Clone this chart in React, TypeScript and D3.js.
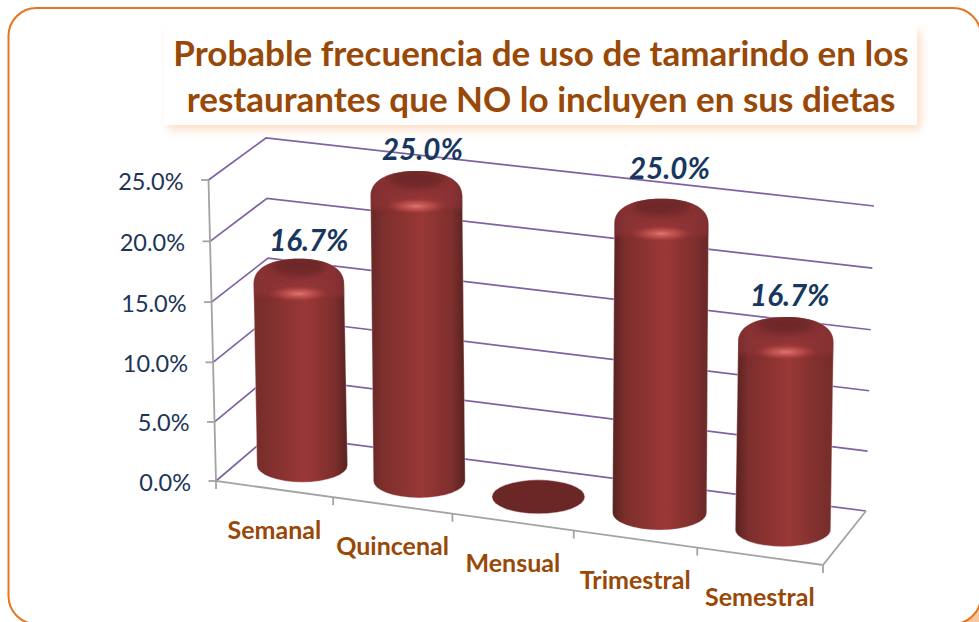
import React from "react";
import * as d3 from "d3";

const categories = ["Semanal", "Quincenal", "Mensual", "Trimestral", "Semestral"];
const values = [16.7, 25.0, 0, 25.0, 16.7];
const valueTicks = [0, 5, 10, 15, 20, 25];
const titleLines = [
  "Probable frecuencia de uso de tamarindo en los",
  "restaurantes que NO lo incluyen en sus dietas",
];

const W = 979;
const H = 622;

// 3D plot box: screen corners of the projected chart cube
type Pt = [number, number];
const frontLeft0: Pt = [216, 481];
const frontRight0: Pt = [823, 565];
const backLeft0: Pt = [271, 434];
const backRight0: Pt = [866, 511];
const frontLeft25: Pt = [208.5, 180];
const frontRight25: Pt = [826, 250];
const backLeft25: Pt = [266, 138];
const backRight25: Pt = [874, 206];

const vScale = d3.scaleLinear().domain([0, 25]).range([0, 1]);
const catScale = d3.scaleBand<string>().domain(categories).range([0, 1]).padding(0);

const persp = (u: number, k: number) => u / (u + k * (1 - u));
const mix = (a: Pt, b: Pt, t: number): Pt => [a[0] + (b[0] - a[0]) * t, a[1] + (b[1] - a[1]) * t];

function project(u: number, v: number, depth: number): Pt {
  const p = persp(u, 1.045);
  const t = persp(vScale(v), 1.024);
  const front = mix(mix(frontLeft0, frontRight0, p), mix(frontLeft25, frontRight25, p), t);
  const back = mix(mix(backLeft0, backRight0, p), mix(backLeft25, backRight25, p), t);
  return mix(front, back, depth);
}
const line = d3.line<Pt>();

const GRID = "#7f62a3";
const AXIS = "#a3a3a3";
const RY = 17;
const labelNudge = [[10, -8], [6, -11], [0, 0], [8, -20], [4, -11]];

function barShape(u: number, v: number) {
  const b = project(u, 0, 0.5);
  const t = project(u, v, 0.5);
  const bc: Pt = [b[0] + 1, b[1]];
  const tc: Pt = [t[0] + 1, t[1]];
  const rx = catScale.bandwidth() * 607 * 0.383 + (u - 0.5) * 3;
  return { bc, tc, rx };
}

export default function App() {
  const bars = categories.map((c, i) => {
    const u = catScale(c)! + catScale.bandwidth() / 2;
    return { c, i, u, v: values[i], ...barShape(u, values[i]) };
  });
  return (
    <svg width={W} height={H} viewBox={`0 0 ${W} ${H}`} style={{ position: "absolute", left: 0, top: 0, display: "block" }}>
      <defs>
        <filter id="titleShadow" x="-5%" y="-20%" width="110%" height="140%">
          <feGaussianBlur stdDeviation="4" />
        </filter>
        <filter id="soft4" x="-40%" y="-80%" width="180%" height="260%">
          <feGaussianBlur stdDeviation="4" />
        </filter>
        <filter id="soft3" x="-40%" y="-80%" width="180%" height="260%">
          <feGaussianBlur stdDeviation="2.5" />
        </filter>
        {bars.map((b) => {
          const l = d3.interpolateRgb("#7e302e", "#572220")(Math.min(1, b.u / 0.5));
          const r = d3.interpolateRgb("#7e302e", "#572220")(Math.min(1, (1 - b.u) / 0.5));
          return (
            <linearGradient key={b.c} id={`bar${b.i}`} x1="0" x2="1" y1="0" y2="0">
              <stop offset="0" stopColor={l} />
              <stop offset="0.14" stopColor="#7d2f2d" />
              <stop offset="0.55" stopColor="#9a3836" />
              <stop offset="0.86" stopColor="#7d2f2d" />
              <stop offset="1" stopColor={r} />
            </linearGradient>
          );
        })}
        <radialGradient id="hl">
          <stop offset="0" stopColor="#e27a74" stopOpacity="0.95" />
          <stop offset="0.55" stopColor="#c8544f" stopOpacity="0.6" />
          <stop offset="1" stopColor="#a83c3a" stopOpacity="0" />
        </radialGradient>
      </defs>

      <rect x={0} y={0} width={W} height={H} fill="#ffffff" />
      <rect x={948} y={592} width={31} height={30} fill="#f8c7a0" />
      <rect x={8.5} y={8} width={972.5} height={616} rx={28} ry={28} fill="#ffffff" stroke="#e8761f" strokeWidth={2} />

      {/* title box */}
      <rect x={168} y={31} width={753} height={99} fill="#f9c9a2" opacity={0.6} filter="url(#titleShadow)" />
      <rect x={164} y={25} width={753} height={100} fill="#ffffff" />
      {titleLines.map((t, i) => (
        <text key={t} x={541} y={66 + i * 46} textAnchor="middle" fontFamily="Lato" fontWeight={700} fontSize={35} fill="#984807">
          {t}
        </text>
      ))}

      {/* walls and floor gridlines */}
      <g fill="none" stroke={GRID} strokeWidth={1.7}>
        {valueTicks.map((t) => (
          <path key={t} d={line([project(0, t, 0), project(0, t, 1), project(1, t, 1)])!} />
        ))}
      </g>

      {/* axes */}
      <g fill="none" stroke={AXIS} strokeWidth={1.8}>
        <path d={line([project(0, 25, 0), project(0, 0, 0), project(1, 0, 0), project(1, 0, 1)])!} />
        {valueTicks.map((t) => {
          const p = project(0, t, 0);
          return <path key={t} d={line([[p[0] - 7.5, p[1]], p])!} />;
        })}
        {d3.range(categories.length + 1).map((k) => {
          const p = project(k / categories.length, 0, 0);
          return <path key={k} d={line([p, [p[0], p[1] + 8]])!} />;
        })}
      </g>

      {/* value labels */}
      {valueTicks.map((t) => {
        const p = project(0, t, 0);
        return (
          <text key={t} x={p[0] - 25} y={p[1] + 9.5} textAnchor="end" fontFamily="Lato" fontSize={23.5} fill="#1c3557">
            {`${t.toFixed(1)}%`}
          </text>
        );
      })}

      {/* bars */}
      {bars.map((b) => {
        if (b.v === 0) {
          return <ellipse key={b.c} cx={b.bc[0]} cy={b.bc[1]} rx={b.rx} ry={RY} fill="#6b2725" stroke="#f0dcdc" strokeWidth={0.5} />;
        }
        const domeTop = b.tc[1] - 8;
        const shoulder = b.tc[1] + 17;
        const k = shoulder - domeTop;
        const tl = b.tc[0] - b.rx;
        const tr = b.tc[0] + b.rx;
        const bl = b.bc[0] - b.rx;
        const br = b.bc[0] + b.rx;
        const d =
          `M${bl},${b.bc[1]}L${tl},${shoulder}` +
          `C${tl},${domeTop + k * 0.3} ${b.tc[0] - b.rx * 0.55},${domeTop} ${b.tc[0]},${domeTop}` +
          `C${b.tc[0] + b.rx * 0.55},${domeTop} ${tr},${domeTop + k * 0.3} ${tr},${shoulder}` +
          `L${br},${b.bc[1]}A${b.rx},${RY} 0 0 1 ${bl},${b.bc[1]}Z`;
        return (
          <g key={b.c}>
            <clipPath id={`clip${b.i}`}>
              <path d={d} />
            </clipPath>
            <path d={d} fill={`url(#bar${b.i})`} stroke="#f3e4e4" strokeWidth={0.4} />
            <g clipPath={`url(#clip${b.i})`}>
              <rect x={tl - 2} y={domeTop} width={b.rx * 2 + 4} height={38} fill="#93363a" opacity={0.55} filter="url(#soft3)" />
              <ellipse cx={b.tc[0]} cy={domeTop + 7} rx={b.rx * 0.62} ry={11} fill="#6e2725" filter="url(#soft4)" />
              <ellipse cx={b.tc[0]} cy={b.tc[1] + 27} rx={b.rx * 0.68} ry={8} fill="url(#hl)" />
            </g>
          </g>
        );
      })}

      {/* data labels */}
      {bars.map((b) => {
        const [dx, dy] = labelNudge[b.i];
        if (b.v === 0) return null;
        return (
          <text key={b.c} x={b.tc[0] + dx} y={b.tc[1] - 8 + dy} textAnchor="middle" fontFamily="Lato" fontStyle="italic" fontWeight={700} fontSize={29.5} fill="#17375e">
            {`${b.v.toFixed(1)}%`}
          </text>
        );
      })}

      {/* category labels */}
      {bars.map((b) => {
        const p = project(b.u, 0, 0);
        return (
          <text key={b.c} x={p[0]} y={p[1] + 50} textAnchor="middle" fontFamily="Lato" fontWeight={700} fontSize={25} fill="#984807">
            {b.c}
          </text>
        );
      })}
    </svg>
  );
}
